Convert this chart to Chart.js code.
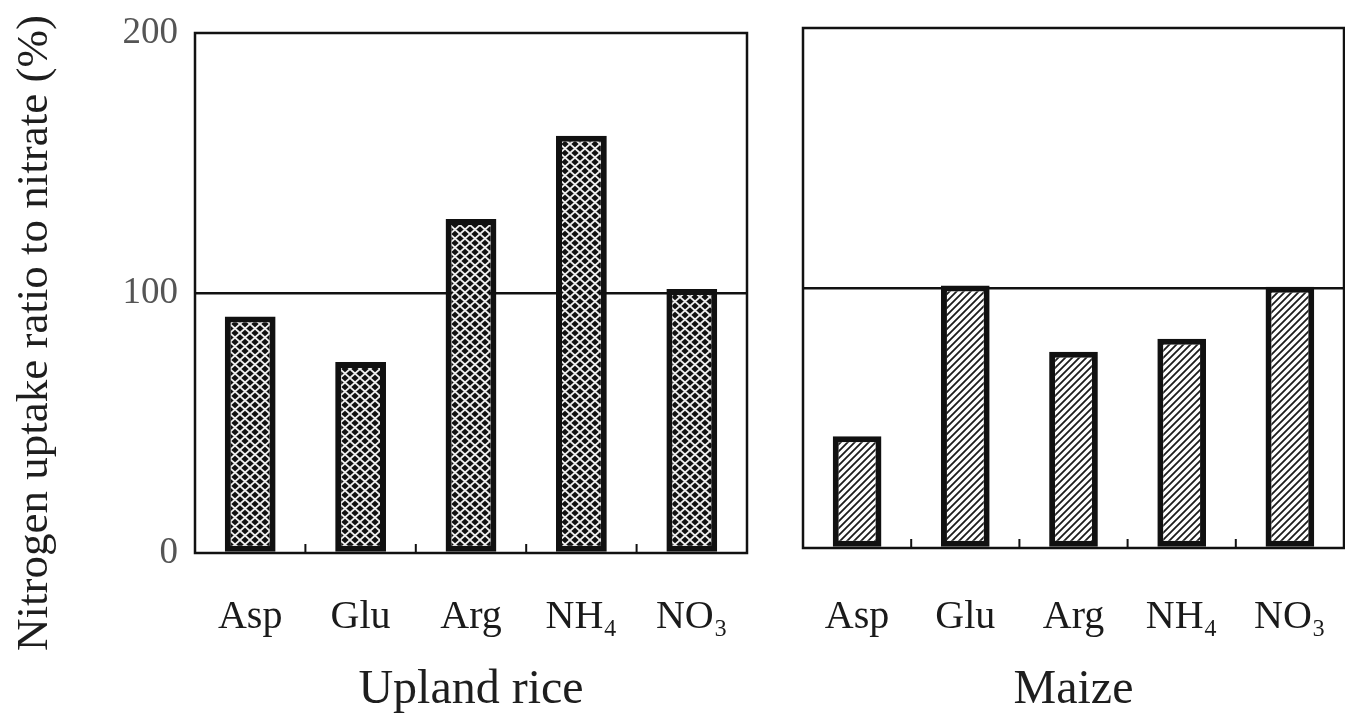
<!DOCTYPE html>
<html>
<head>
<meta charset="utf-8">
<script src="https://cdn.jsdelivr.net/npm/chart.js@4.4.1/dist/chart.umd.min.js"></script>
<style>
  html, body { margin:0; padding:0; background:#fff; }
  #wrap { position:relative; width:1345px; height:717px; overflow:hidden; }
  #riceBox { position:absolute; left:0; top:0; width:770px; height:717px; }
  #maizeBox { position:absolute; left:770px; top:-5px; width:575px; height:722px; }
</style>
</head>
<body>
<div id="wrap">
  <div id="riceBox"><canvas id="riceChart"></canvas></div>
  <div id="maizeBox"><canvas id="maizeChart"></canvas></div>
</div>
<script>
// data
const categories = ['Asp', 'Glu', 'Arg', 'NH₄', 'NO₃'];
const riceValues = [91, 73.5, 128.5, 160.5, 101.5];
const maizeValues = [43, 101, 75.5, 80.5, 100.5];
const yTicks = [0, 100, 200];
const yTitle = 'Nitrogen uptake ratio to nitrate (%)';

const serif = "'Liberation Serif', 'Times New Roman', serif";

// fill patterns
function crossPattern() {
  const c = document.createElement('canvas');
  c.width = 10; c.height = 9;
  const g = c.getContext('2d');
  g.fillStyle = '#111';
  g.fillRect(0, 0, 10, 9);
  g.strokeStyle = '#eee';
  g.lineWidth = 1.8;
  g.beginPath();
  g.moveTo(0, 0); g.lineTo(10, 9);
  g.moveTo(10, 0); g.lineTo(0, 9);
  g.stroke();
  return g.createPattern(c, 'repeat');
}
function hatchPattern() {
  const c = document.createElement('canvas');
  c.width = 7; c.height = 7;
  const g = c.getContext('2d');
  g.fillStyle = '#fff';
  g.fillRect(0, 0, 7, 7);
  g.strokeStyle = '#1c1c1c';
  g.lineWidth = 1.8;
  g.beginPath();
  g.moveTo(-1, 8); g.lineTo(8, -1);
  g.moveTo(-2, 2); g.lineTo(2, -2);
  g.moveTo(5, 9); g.lineTo(9, 5);
  g.stroke();
  return g.createPattern(c, 'repeat');
}

// frame + inward ticks between categories
const framePlugin = {
  id: 'frame',
  afterDatasetsDraw(chart) {
    const {ctx, chartArea: a, scales} = chart;
    ctx.save();
    ctx.strokeStyle = '#111';
    ctx.lineWidth = 2.5;
    ctx.strokeRect(a.left, a.top, a.right - a.left, a.bottom - a.top);
    ctx.lineWidth = 2;
    ctx.beginPath();
    for (let i = 1; i < categories.length; i++) {
      const x = (scales.x.getPixelForValue(i - 1) + scales.x.getPixelForValue(i)) / 2;
      ctx.moveTo(x, a.bottom);
      ctx.lineTo(x, a.bottom - 9);
    }
    ctx.stroke();
    ctx.restore();
  }
};

const yTitlePlugin = {
  id: 'yTitle',
  afterDraw(chart) {
    const ctx = chart.ctx;
    ctx.save();
    ctx.translate(47, 333);
    ctx.rotate(-Math.PI / 2);
    ctx.font = '45px ' + serif;
    ctx.fillStyle = '#1e1e1e';
    ctx.textAlign = 'center';
    ctx.textBaseline = 'alphabetic';
    ctx.fillText(yTitle, 0, 0);
    ctx.restore();
  }
};

function makeChart(id, values, fill, title, opts) {
  return new Chart(document.getElementById(id), {
    type: 'bar',
    data: {
      labels: categories,
      datasets: [{
        data: values,
        backgroundColor: fill,
        borderColor: '#111',
        borderWidth: 6,
        borderSkipped: false,
        barPercentage: opts.barPct,
        categoryPercentage: 1
      }]
    },
    options: {
      responsive: true,
      maintainAspectRatio: false,
      animation: false,
      events: [],
      layout: { padding: { top: opts.top, right: opts.right, left: 0, bottom: 0 } },
      plugins: { legend: { display: false }, tooltip: { enabled: false } },
      scales: {
        x: {
          grid: { display: false },
          border: { display: false },
          ticks: { color: '#1a1a1a', font: { family: serif, size: 40 }, padding: opts.tickPad },
          title: { display: true, text: title, color: '#1e1e1e', font: { family: serif, size: 48 }, padding: { top: 4, bottom: -2 } },
          afterFit: s => { s.height = opts.xHeight; s.paddingLeft = 0; s.paddingRight = 0; }
        },
        y: {
          min: 0, max: 200,
          afterBuildTicks: s => { s.ticks = yTicks.map(v => ({ value: v })); },
          grid: {
            drawTicks: false,
            color: c => c.tick && c.tick.value === 100 ? '#111' : 'rgba(0,0,0,0)',
            lineWidth: 2.5
          },
          border: { display: false },
          ticks: { display: opts.showY, color: '#555', font: { family: serif, size: 37 }, padding: 17 },
          afterFit: s => { s.width = opts.yWidth; s.paddingTop = 0; s.paddingBottom = 0; }
        }
      }
    },
    plugins: opts.showY ? [framePlugin, yTitlePlugin] : [framePlugin]
  });
}

makeChart('riceChart', riceValues, crossPattern(), 'Upland rice',
  { top: 33, right: 23, xHeight: 164, yWidth: 195, showY: true, barPct: 0.46, tickPad: 32 });
makeChart('maizeChart', maizeValues, hatchPattern(), 'Maize',
  { top: 33, right: 1, xHeight: 169, yWidth: 33, showY: false, barPct: 0.45, tickPad: 37 });
</script>
</body>
</html>
